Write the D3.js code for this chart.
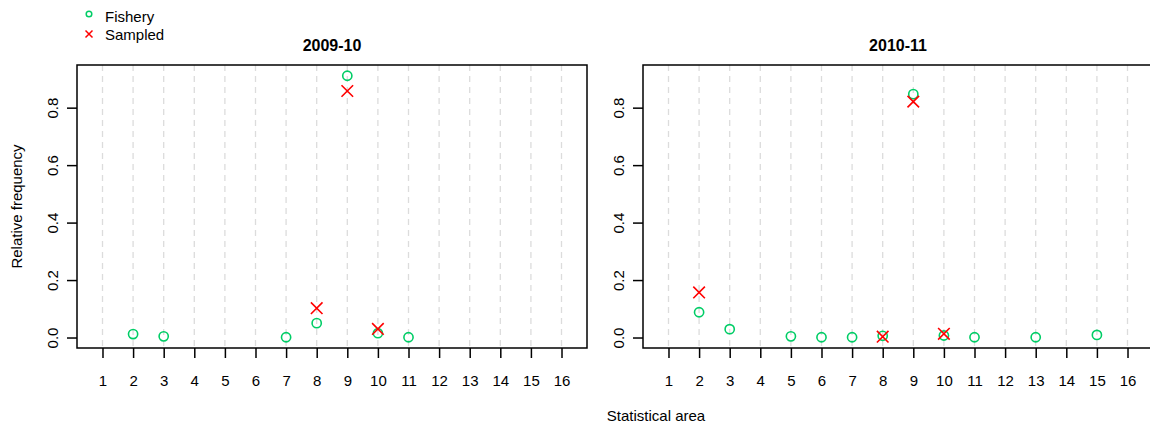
<!DOCTYPE html>
<html>
<head>
<meta charset="utf-8">
<script src="https://cdn.jsdelivr.net/npm/d3@7"></script>
<style>
  html, body { margin: 0; padding: 0; background: #fff; }
  svg { display: block; font-family: "Liberation Sans", Arial, sans-serif; }
</style>
</head>
<body>
<div id="chart"></div>
<script>
// statistical areas shown on the x axis
const areaTicks = [1, 2, 3, 4, 5, 6, 7, 8, 9, 10, 11, 12, 13, 14, 15, 16];
const freqTicks = [0.0, 0.2, 0.4, 0.6, 0.8];
const seasons = ["2009-10", "2010-11"];

// 2009-10
const fisheryAreas0 = [2, 3, 7, 8, 9, 10, 11];
const fisheryFreq0 = [0.012, 0.004, 0.001, 0.050, 0.911, 0.015, 0.001];
const sampledAreas0 = [8, 9, 10];
const sampledFreq0 = [0.102, 0.858, 0.030];

// 2010-11
const fisheryAreas1 = [2, 3, 5, 6, 7, 8, 9, 10, 11, 13, 15];
const fisheryFreq1 = [0.088, 0.029, 0.004, 0.001, 0.001, 0.006, 0.847, 0.007, 0.001, 0.001, 0.009];
const sampledAreas1 = [2, 8, 9, 10];
const sampledFreq1 = [0.157, 0.003, 0.821, 0.013];

const width = 1150, height = 426;
const green = "#00CD66", red = "#FF0000";

const panels = [
  { title: seasons[0], left: 77, right: 587,
    fishery: fisheryAreas0.map((a, i) => ({ area: a, value: fisheryFreq0[i] })),
    sampled: sampledAreas0.map((a, i) => ({ area: a, value: sampledFreq0[i] })) },
  { title: seasons[1], left: 643, right: 1153,
    fishery: fisheryAreas1.map((a, i) => ({ area: a, value: fisheryFreq1[i] })),
    sampled: sampledAreas1.map((a, i) => ({ area: a, value: sampledFreq1[i] })) }
];

const plotTop = 65, plotBottom = 348;

const svg = d3.select("#chart").append("svg")
    .attr("width", width)
    .attr("height", height)
    .attr("viewBox", [0, 0, width, height]);

// shared y range (R style 4% padding)
const yMax = 0.912;
const y = d3.scaleLinear()
    .domain([-0.04 * yMax, yMax * 1.04])
    .range([plotBottom, plotTop]);

panels.forEach(p => {
  const x = d3.scaleLinear()
      .domain([0.167, 16.833])
      .range([p.left, p.right]);

  const g = svg.append("g");

  // dashed grid
  g.append("g")
    .selectAll("line")
    .data(areaTicks)
    .join("line")
      .attr("x1", d => x(d)).attr("x2", d => x(d))
      .attr("y1", plotTop).attr("y2", plotBottom)
      .attr("stroke", "#dcdcdc")
      .attr("stroke-width", 1.3)
      .attr("stroke-dasharray", "6,5");

  // x axis
  g.append("g")
    .attr("transform", `translate(0,${plotBottom})`)
    .call(d3.axisBottom(x).tickValues(areaTicks).tickSize(10).tickPadding(17))
    .call(a => a.select(".domain").remove())
    .call(a => a.selectAll(".tick line").attr("stroke", "#000").attr("stroke-width", 1.5))
    .call(a => a.selectAll(".tick text").attr("font-size", 15).attr("fill", "#000")
        .attr("font-family", "Liberation Sans, Arial, sans-serif"));

  // y axis
  g.append("g")
    .attr("transform", `translate(${p.left},0)`)
    .call(d3.axisLeft(y).tickValues(freqTicks).tickSize(10).tickFormat(d3.format(".1f")))
    .call(a => a.select(".domain").remove())
    .call(a => a.selectAll(".tick line").attr("stroke", "#000").attr("stroke-width", 1.5))
    .call(a => a.selectAll(".tick text")
        .attr("font-size", 15).attr("fill", "#000")
        .attr("font-family", "Liberation Sans, Arial, sans-serif")
        .attr("x", null).attr("dy", null)
        .attr("text-anchor", "middle")
        .attr("transform", "translate(-19,0) rotate(-90)"));

  // box
  g.append("rect")
    .attr("x", p.left).attr("y", plotTop)
    .attr("width", p.right - p.left).attr("height", plotBottom - plotTop)
    .attr("fill", "none")
    .attr("stroke", "#000")
    .attr("stroke-width", 1.5);

  // title
  g.append("text")
    .attr("x", (p.left + p.right) / 2)
    .attr("y", 51)
    .attr("text-anchor", "middle")
    .attr("font-size", 16)
    .attr("font-weight", "bold")
    .text(p.title);

  // fishery circles
  g.append("g")
    .selectAll("circle")
    .data(p.fishery)
    .join("circle")
      .attr("cx", d => x(d.area))
      .attr("cy", d => y(d.value))
      .attr("r", 4.6)
      .attr("fill", "none")
      .attr("stroke", green)
      .attr("stroke-width", 1.6);

  // sampled crosses
  const s = 5.8;
  g.append("g")
    .selectAll("path")
    .data(p.sampled)
    .join("path")
      .attr("d", d => {
        const cx = x(d.area), cy = y(d.value);
        return `M${cx - s},${cy - s}L${cx + s},${cy + s}M${cx - s},${cy + s}L${cx + s},${cy - s}`;
      })
      .attr("stroke", red)
      .attr("stroke-width", 1.6)
      .attr("fill", "none");
});

// y label
svg.append("text")
  .attr("transform", `translate(22,${(plotTop + plotBottom) / 2}) rotate(-90)`)
  .attr("text-anchor", "middle")
  .attr("font-size", 15)
  .text("Relative frequency");

// x label
svg.append("text")
  .attr("x", 656)
  .attr("y", 421)
  .attr("text-anchor", "middle")
  .attr("font-size", 15)
  .text("Statistical area");

// legend
const legend = svg.append("g");
legend.append("circle")
  .attr("cx", 89).attr("cy", 14).attr("r", 2.8)
  .attr("fill", "none").attr("stroke", green).attr("stroke-width", 1.5);
legend.append("path")
  .attr("d", "M85.5,30.5L92.5,37.5M85.5,37.5L92.5,30.5")
  .attr("stroke", red).attr("stroke-width", 1.5);
legend.append("text").attr("x", 105).attr("y", 22).attr("font-size", 15).text("Fishery");
legend.append("text").attr("x", 105).attr("y", 40).attr("font-size", 15).text("Sampled");
</script>
</body>
</html>
